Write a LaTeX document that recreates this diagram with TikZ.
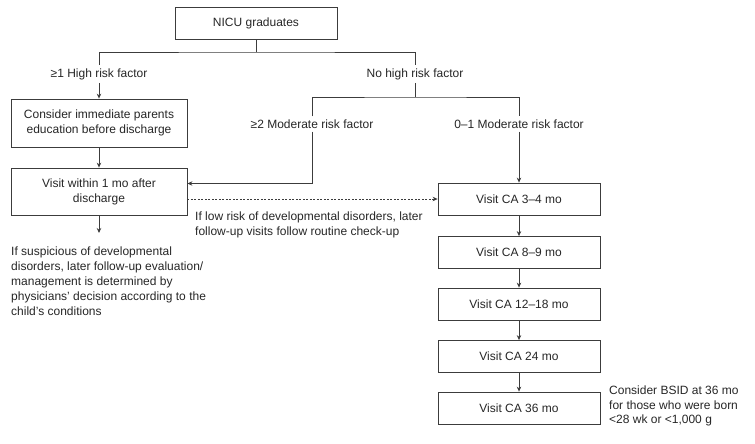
\documentclass[tikz,border=0pt]{standalone}
\usepackage{fontspec}
\setmainfont{Liberation Sans}
\usetikzlibrary{arrows.meta}
\definecolor{txtclr}{HTML}{262626}
\definecolor{lineclr}{HTML}{3C3C3C}
\begin{document}
\begin{tikzpicture}[x=1pt,y=-1pt,
    font=\fontsize{12}{15}\selectfont, text=txtclr,
    box/.style={draw=lineclr,line width=0.8pt,minimum width=162pt,minimum height=32pt,align=center,inner sep=2pt},
    wbox/.style={box,minimum width=176pt,minimum height=47pt},
    lab/.style={inner sep=3pt},
    note/.style={anchor=north west,align=left,inner sep=0pt},
    line/.style={draw=lineclr,line width=0.8pt},
    arr/.style={line,->,>={Stealth[length=5pt,width=4.5pt]}},
    dasharr/.style={arr,dashed,dash pattern=on 2pt off 1.5pt}]
  \useasboundingbox (0,0) rectangle (755,444);
  % top
  \node[box] (nicu) at (256,23) {NICU graduates};
  \coordinate (sp1) at (256,52);
  \node[lab] (hilab) at (99,74) {≥1 High risk factor};
  \node[lab] (nolab) at (415,74) {No high risk factor};
  \draw[line] (nicu.south) -- (sp1);
  \draw[line] (hilab.north) |- (sp1) -| (nolab.north);
  % high risk side
  \node[wbox,minimum height=48pt] (consider) at (99,123) {Consider immediate parents\\education before discharge};
  \node[wbox] (visit1) at (99,191.5) {Visit within 1 mo after\\discharge};
  \draw[arr] (hilab.south) -- (consider.north);
  \draw[arr] (consider.south) -- (visit1.north);
  \coordinate (suspend) at (99,233);
  \draw[arr] (visit1.south) -- (suspend);
  \node[note] (suspnote) at (11,247) {If suspicious of developmental\\disorders, later follow-up evaluation/\\management is determined by\\physicians' decision according to the\\child's conditions};
  % no high risk side
  \coordinate (sp2) at (415,97);
  \node[lab] (modlab) at (312,124) {≥2 Moderate risk factor};
  \node[lab] (lowlab) at (519,124) {0–1 Moderate risk factor};
  \draw[line] (nolab.south) -- (sp2);
  \draw[line] (modlab.north) |- (sp2) -| (lowlab.north);
  \draw[arr] (modlab.south) |- ([yshift=8pt]visit1.east);
  % visit chain
  \node[box] (ca34) at (519,199) {Visit CA 3–4 mo};
  \node[box] (ca89) at (519,252.5) {Visit CA 8–9 mo};
  \node[box] (ca1218) at (519,304) {Visit CA 12–18 mo};
  \node[box] (ca24) at (519,356.5) {Visit CA 24 mo};
  \node[box] (ca36) at (519,408) {Visit CA 36 mo};
  \draw[arr] (lowlab.south) -- (ca34.north);
  \draw[arr] (ca34) -- (ca89);
  \draw[arr] (ca89) -- (ca1218);
  \draw[arr] (ca1218) -- (ca24);
  \draw[arr] (ca24) -- (ca36);
  \draw[dasharr] (visit1.east |- ca34.west) -- (ca34.west);
  \node[note] (lownote) at (195,212) {If low risk of developmental disorders, later\\follow-up visits follow routine check-up};
  \node[note,font=\fontsize{12}{14.5}\selectfont] (bsidnote) at (609,386) {Consider BSID at 36 mo\\for those who were born\\<28 wk or <1,000 g};
\end{tikzpicture}
\end{document}
